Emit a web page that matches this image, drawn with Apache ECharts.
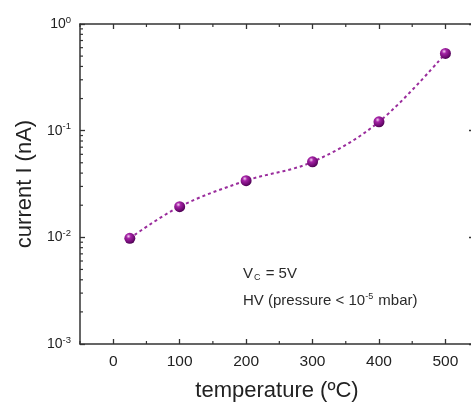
<!DOCTYPE html>
<html>
<head>
<meta charset="utf-8">
<script src="https://cdn.jsdelivr.net/npm/echarts@6/dist/echarts.min.js"></script>
<style>
  html, body { margin: 0; padding: 0; background: #fff; }
  #chart { width: 471px; height: 403px; }
</style>
</head>
<body>
<div id="chart"></div>
<script>
// measured points
const temps = [25, 100, 200, 300, 400, 500]
const currents = [0.0098, 0.0194, 0.034, 0.051, 0.121, 0.53]

// axis ticks
const xMajorTicks = [0, 100, 200, 300, 400, 500]
const xMinorTicks = [-50, 50, 150, 250, 350, 450]
const yMinorTicks = [
  0.002, 0.003, 0.004, 0.005, 0.006, 0.007, 0.008, 0.009,
  0.02, 0.03, 0.04, 0.05, 0.06, 0.07, 0.08, 0.09,
  0.2, 0.3, 0.4, 0.5, 0.6, 0.7, 0.8, 0.9
]

const X_MIN = -50, X_MAX = 543
const FONT = 'Liberation Sans, Arial, sans-serif'
const AXIS_COLOR = '#333'

const chart = echarts.init(document.getElementById('chart'))

// y labels as 10^n
const expLabel = v => {
  const e = Math.round(Math.log10(v))
  return '{b|10}{s|' + e + '}'
}

const baseX = {
  type: 'value', min: X_MIN, max: X_MAX,
  splitLine: { show: false },
  axisLine: { onZero: false, lineStyle: { color: AXIS_COLOR, width: 1.5 } },
  axisTick: { inside: true, length: 5, customValues: xMajorTicks, lineStyle: { color: AXIS_COLOR, width: 1.3 } }
}
const baseY = {
  type: 'log', logBase: 10, min: 0.001, max: 1,
  splitLine: { show: false },
  axisLine: { onZero: false, lineStyle: { color: AXIS_COLOR, width: 1.5 } },
  axisTick: { inside: true, length: 5, lineStyle: { color: AXIS_COLOR, width: 1.3 } }
}

chart.setOption({
  animation: false,
  textStyle: { fontFamily: FONT },
  grid: { left: 80, top: 24, width: 394, height: 320, containLabel: false, outerBoundsMode: 'none' },
  xAxis: [
    Object.assign({}, baseX, {
      position: 'bottom',
      name: 'temperature (ºC)',
      nameLocation: 'middle',
      nameGap: 36,
      nameTextStyle: { fontSize: 22, color: '#222', fontFamily: FONT },
      axisLabel: { customValues: xMajorTicks, fontSize: 15.5, color: '#222', margin: 10, fontFamily: FONT }
    }),
    Object.assign({}, baseX, {
      position: 'top',
      axisLabel: { show: false }
    })
  ],
  yAxis: [
    Object.assign({}, baseY, {
      position: 'left',
      name: 'current I (nA)',
      nameLocation: 'middle',
      nameGap: 44,
      nameTextStyle: { fontSize: 22, color: '#222', fontFamily: FONT },
      axisLabel: {
        formatter: expLabel, margin: 9, color: '#222',
        rich: {
          b: { fontSize: 14, color: '#222', fontFamily: FONT },
          s: { fontSize: 9.5, color: '#222', fontFamily: FONT, verticalAlign: 'top', padding: [0, 0, 8, 0] }
        }
      }
    }),
    Object.assign({}, baseY, {
      position: 'right',
      axisLabel: { show: false }
    })
  ],
  series: [
    {
      type: 'line',
      data: temps.map((t, i) => [t, currents[i]]),
      smooth: 0.35,
      symbol: 'circle',
      symbolSize: 11,
      lineStyle: { color: '#9a2c9c', width: 2, type: [3, 3] },
      itemStyle: {
        color: {
          type: 'radial', x: 0.38, y: 0.32, r: 0.68,
          colorStops: [
            { offset: 0, color: '#f6d2f4' },
            { offset: 0.3, color: '#a523a6' },
            { offset: 0.8, color: '#6e0a72' },
            { offset: 1, color: '#4d0352' }
          ]
        }
      },
      z: 5
    },
    {
      // minor ticks on the log axis, both sides
      type: 'custom',
      data: yMinorTicks.map(v => [0, v]),
      renderItem: (params, api) => {
        const r = params.coordSys
        const y = api.coord([0, api.value(1)])[1]
        const st = { stroke: AXIS_COLOR, lineWidth: 1.2 }
        return {
          type: 'group',
          children: [
            { type: 'line', shape: { x1: r.x, y1: y, x2: r.x + 3, y2: y }, style: st },
            { type: 'line', shape: { x1: r.x + r.width, y1: y, x2: r.x + r.width - 3, y2: y }, style: st }
          ]
        }
      },
      silent: true
    },
    {
      // minor ticks on the temperature axis, top and bottom
      type: 'custom',
      data: xMinorTicks.map(v => [v, 0.01]),
      renderItem: (params, api) => {
        const r = params.coordSys
        const x = api.coord([api.value(0), 0.01])[0]
        const st = { stroke: AXIS_COLOR, lineWidth: 1.2 }
        return {
          type: 'group',
          children: [
            { type: 'line', shape: { x1: x, y1: r.y + r.height, x2: x, y2: r.y + r.height - 3 }, style: st },
            { type: 'line', shape: { x1: x, y1: r.y, x2: x, y2: r.y + 3 }, style: st }
          ]
        }
      },
      silent: true
    }
  ],
  graphic: [
    {
      type: 'text', left: 243, top: 266,
      style: {
        text: '{n|V}{sub|C}{n| = 5V}',
        rich: {
          n: { fontSize: 15, fill: '#2a2a2a', fontFamily: FONT },
          sub: { fontSize: 9, fill: '#2a2a2a', fontFamily: FONT, padding: [9, 1, 0, 1] }
        }
      }
    },
    {
      type: 'text', left: 243, top: 292,
      style: {
        text: '{n|HV (pressure < 10}{sup|-5}{n| mbar)}',
        rich: {
          n: { fontSize: 15, fill: '#2a2a2a', fontFamily: FONT },
          sup: { fontSize: 9, fill: '#2a2a2a', fontFamily: FONT, padding: [0, 1, 9, 0] }
        }
      }
    }
  ]
})
</script>
</body>
</html>
